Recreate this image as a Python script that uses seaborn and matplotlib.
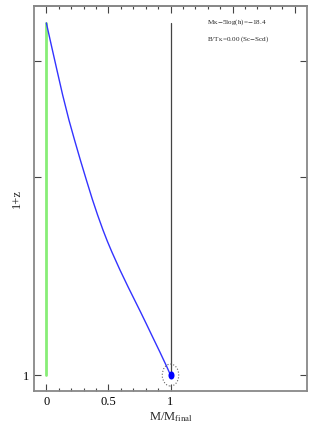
import numpy as np
import pandas as pd
import seaborn as sns
import matplotlib.pyplot as plt
from matplotlib.path import Path
from matplotlib.transforms import Affine2D
from matplotlib.ticker import FixedLocator, NullFormatter, FixedFormatter

# Mass growth history
mass_frac = [0.0, 0.0435, 0.0855, 0.1315, 0.1823, 0.2274, 0.2742, 0.3226,
             0.3702, 0.4129, 0.4565, 0.4911, 0.5282, 0.5935, 0.6597, 0.7113,
             0.7589, 0.8065, 0.8565, 0.9145, 0.9718, 1.0]
one_plus_z = [3.43, 3.152, 2.908, 2.665, 2.441, 2.276, 2.122, 1.979,
              1.851, 1.751, 1.661, 1.598, 1.538, 1.444, 1.360, 1.300,
              1.247, 1.195, 1.142, 1.084, 1.028, 1.0]

# main progenitor stays at zero bulge fraction (green track)
green_x = [0.0, 0.0]
green_y = [1.0, 3.43]

# final mass marker
final_x = [1.0]
final_y = [1.0]
vline_y = [1.0, 3.43]

label_mag = r"M$_{\rm K}$$-$5log(h)=$-$18.4"
label_bt = r"B/T$_{\rm K}$=0.00 (Sc$-$Scd)"

sns.set_theme(style="ticks")
plt.rcParams["font.family"] = ["Liberation Serif", "DejaVu Serif"]
plt.rcParams["mathtext.fontset"] = "stix"

# slightly tall ellipse marker, like the original
ellipse = Path.unit_circle().transformed(Affine2D().scale(0.75, 1.0))

fig = plt.figure(figsize=(3.14, 4.24), dpi=100)
ax = fig.add_axes([0.108, 0.078, 0.870, 0.908])

df = pd.DataFrame({"m": mass_frac, "z": one_plus_z})

ax.plot(green_x, green_y, color="#88ee77", lw=2.0, zorder=2)
ax.plot([1.0, 1.0], vline_y, color="#444444", lw=0.9, zorder=2)
sns.lineplot(data=df, x="m", y="z", sort=False, estimator=None,
             color="#3333ff", lw=1.0, ax=ax, zorder=3)
ax.scatter(final_x, final_y, s=34, marker=ellipse, color="#0000ff",
           zorder=4, linewidths=0)
ax.scatter(final_x, final_y, s=250, marker=ellipse, facecolors="none",
           edgecolors="#666666", linestyles=":", linewidths=0.8, zorder=4)

ax.set_yscale("log")
ax.set_xlim(-0.1, 2.1)
ax.set_ylim(0.946, 3.64)

# bottom x ticks only from 0 to 1, labelled
ax.xaxis.set_major_locator(FixedLocator([0, 0.5, 1]))
ax.xaxis.set_minor_locator(FixedLocator(np.arange(0.1, 1.0, 0.1)))
ax.xaxis.set_major_formatter(FixedFormatter(["0", "0.5", "1"]))
ax.yaxis.set_major_locator(FixedLocator([1, 2, 3]))
ax.yaxis.set_major_formatter(FixedFormatter(["1", "", ""]))
ax.yaxis.set_minor_locator(FixedLocator([]))
ax.yaxis.set_minor_formatter(NullFormatter())

ax.tick_params(which="both", direction="in", top=False, right=True,
               colors="#444444", labelcolor="black", labelsize=9, width=0.8)
ax.tick_params(which="major", length=5)
ax.tick_params(which="minor", length=2.5)

# top axis: full run of ticks, no labels
top = ax.secondary_xaxis("top")
top.xaxis.set_major_locator(FixedLocator([0, 0.5, 1, 1.5, 2]))
top.xaxis.set_minor_locator(FixedLocator(np.arange(0.1, 2.0, 0.1)))
top.xaxis.set_major_formatter(NullFormatter())
top.tick_params(which="both", direction="in", colors="#444444", width=0.8)
top.tick_params(which="major", length=5)
top.tick_params(which="minor", length=2.5)
top.spines["top"].set_color("#888888")
top.spines["top"].set_linewidth(1.3)

for s in ax.spines.values():
    s.set_color("#888888")
    s.set_linewidth(1.3)

ax.set_xlabel(r"M/M$_{\rm final}$", fontsize=9, labelpad=2)
ax.set_ylabel("1+z", fontsize=9, labelpad=0)

ax.text(0.634, 0.958, label_mag, transform=ax.transAxes, fontsize=5.1,
        va="center")
ax.text(0.634, 0.914, label_bt, transform=ax.transAxes, fontsize=5.1,
        va="center")

plt.savefig("out.png", dpi=100)
plt.close()
